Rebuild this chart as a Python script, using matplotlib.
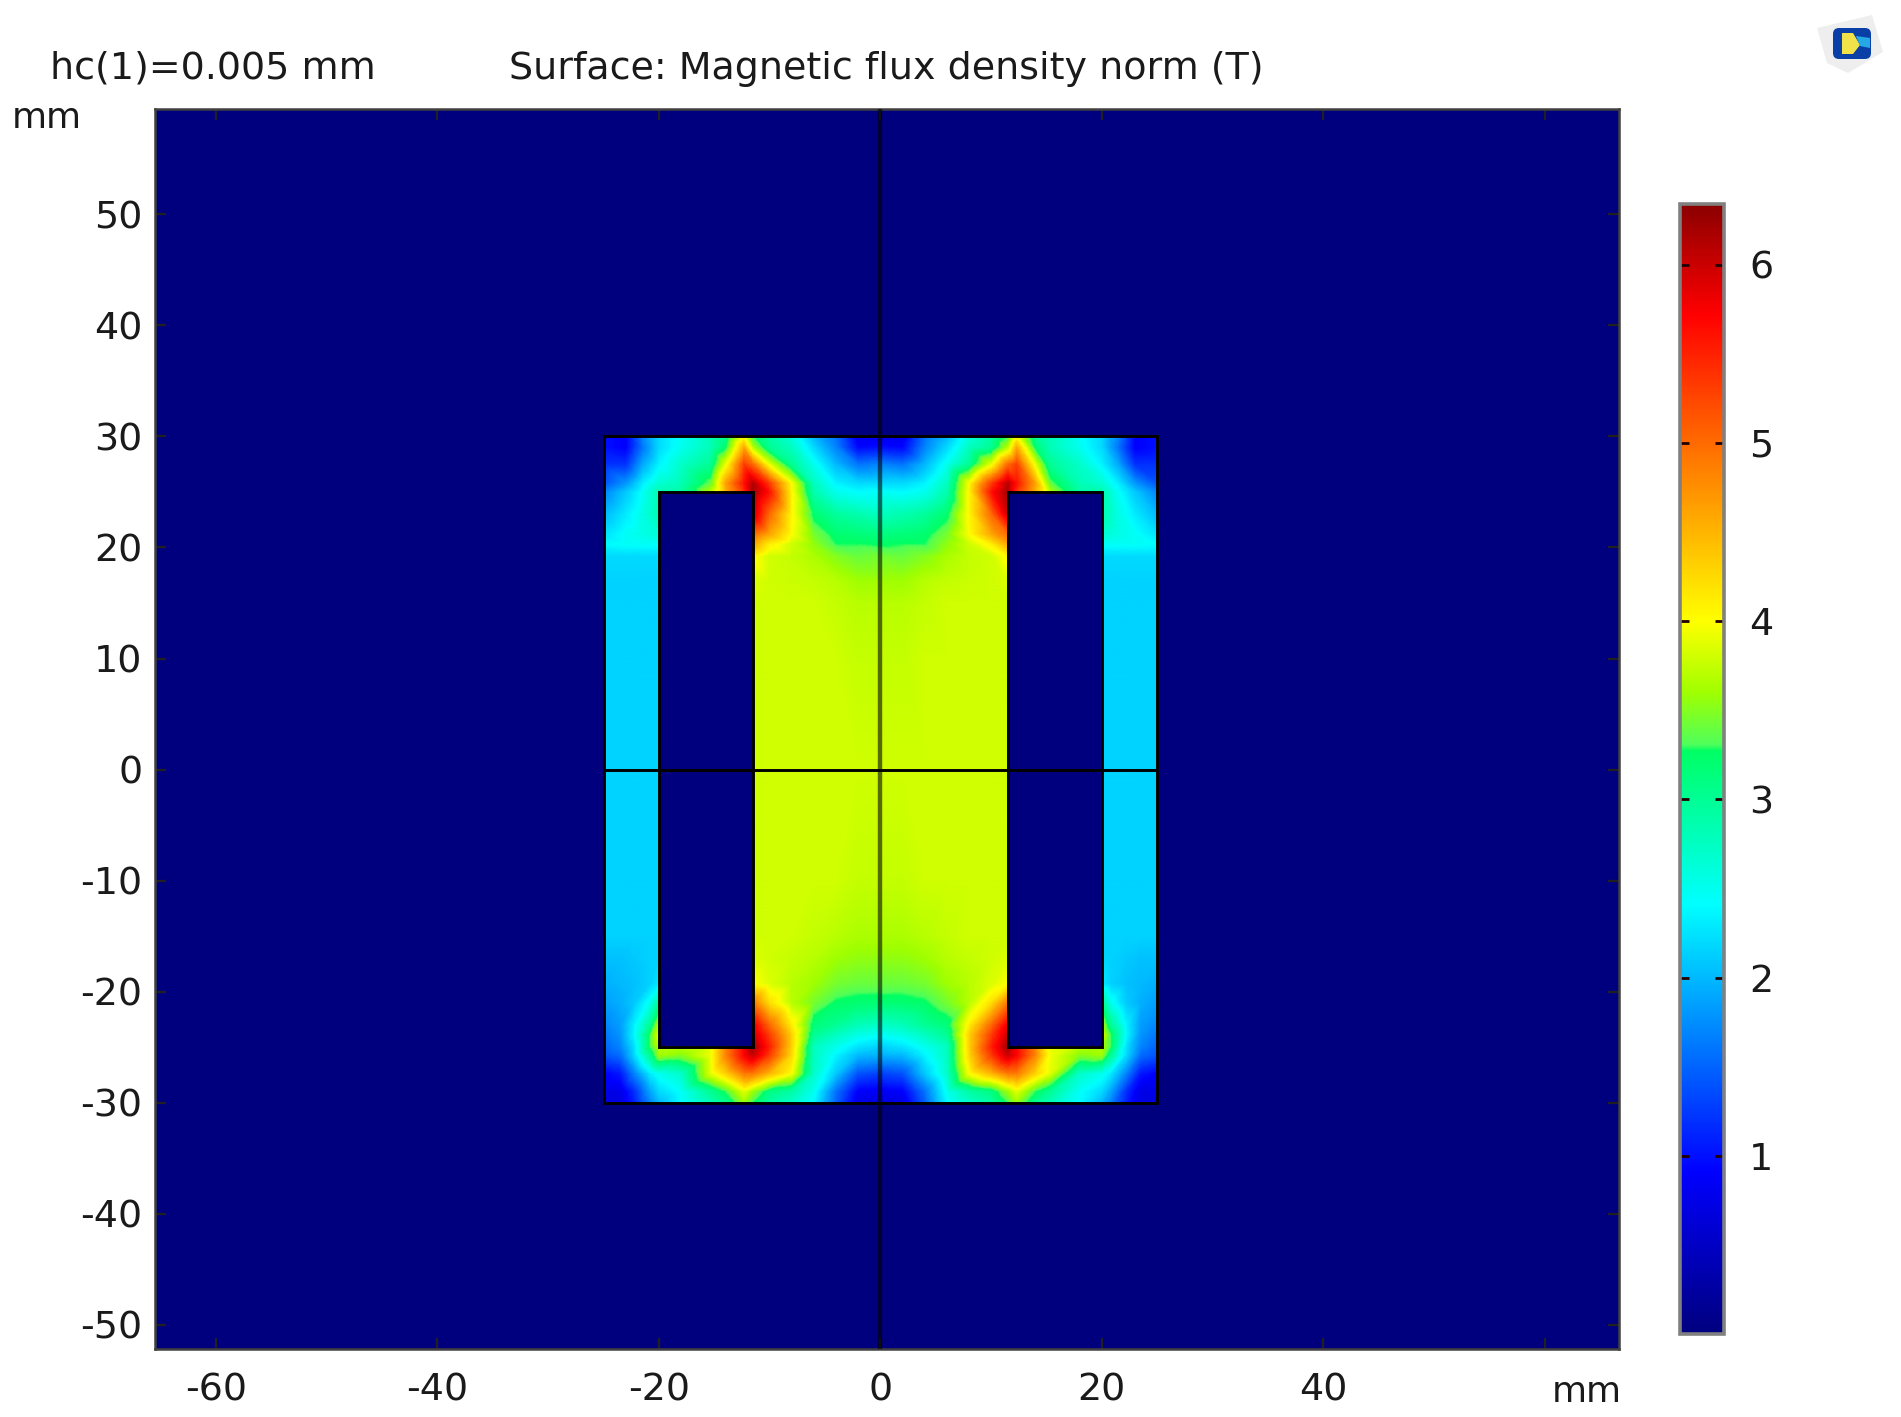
import numpy as np
import matplotlib
matplotlib.use("Agg")
import matplotlib.pyplot as plt
import matplotlib.tri as mtri
from matplotlib.colors import LinearSegmentedColormap, to_rgb
from matplotlib.patches import Polygon, FancyBboxPatch, Rectangle

W, H = 1901, 1417
plt.rcParams['font.family'] = 'DejaVu Sans'
TXT = '#1a1a1a'
FS = 27.4
FS_UNIT = 25.8

# Field (tesla), left half of the core; window cells are 0
X_TOP = [-25, -23, -21.5, -20, -18, -15.3, -14, -12.3, -11.5, -10, -8, -6, -4, -2, 0]
Y_TOP = [30, 29, 27.5, 25.8, 25, 23, 21.2, 20.3, 19.2, 17, 15, 10, 0]
B_TOP = [
    [1.0, 0.9, 1.7, 2.2, 2.45, 2.8, 3.0, 4.0, 3.3, 2.9, 2.6, 2.0, 1.6, 0.8, 0.8],
    [1.0, 0.9, 1.6, 2.2, 2.5, 2.8, 3.2, 4.6, 3.7, 3.0, 2.75, 2.2, 1.7, 0.95, 1.0],
    [1.2, 1.2, 1.9, 2.35, 2.7, 3.0, 3.9, 5.3, 5.0, 3.9, 3.0, 2.5, 2.0, 1.6, 1.7],
    [1.4, 1.8, 2.3, 2.65, 2.8, 3.4, 4.6, 5.6, 6.1, 5.3, 4.0, 2.75, 2.35, 2.2, 2.2],
    [1.7, 2.1, 2.45, 2.85, 2.9, 3.7, 4.5, 5.4, 6.2, 5.6, 4.05, 2.85, 2.5, 2.4, 2.45],
    [2.0, 2.3, 2.55, 2.85, 0, 0, 0, 0, 6.0, 5.0, 4.05, 3.2, 2.95, 2.85, 2.75],
    [2.25, 2.45, 2.55, 2.65, 0, 0, 0, 0, 5.0, 4.6, 4.0, 3.45, 3.2, 3.15, 3.1],
    [2.4, 2.45, 2.45, 2.45, 0, 0, 0, 0, 4.6, 4.1, 3.8, 3.55, 3.28, 3.28, 3.25],
    [2.2, 2.2, 2.2, 2.2, 0, 0, 0, 0, 4.05, 3.8, 3.75, 3.65, 3.5, 3.4, 3.45],
    [2.15, 2.15, 2.15, 2.15, 0, 0, 0, 0, 3.85, 3.8, 3.78, 3.75, 3.7, 3.6, 3.6],
    [2.15, 2.15, 2.15, 2.15, 0, 0, 0, 0, 3.8, 3.8, 3.8, 3.8, 3.75, 3.7, 3.7],
    [2.15, 2.15, 2.15, 2.15, 0, 0, 0, 0, 3.8, 3.8, 3.8, 3.8, 3.8, 3.75, 3.75],
    [2.15, 2.15, 2.15, 2.15, 0, 0, 0, 0, 3.8, 3.8, 3.8, 3.8, 3.8, 3.8, 3.8],
]
X_BOT = [-25, -23.5, -22.2, -20.8, -20, -18, -15.3, -14, -12.3, -11.5, -10, -8, -6, -4, -2, 0]
Y_BOT = [0, -10, -15, -17, -19.3, -21, -23, -23.9, -25, -25.8, -27.4, -29, -30]
B_BOT = [
    [2.15, 2.15, 2.15, 2.15, 2.15, 0, 0, 0, 0, 3.8, 3.8, 3.8, 3.8, 3.8, 3.8, 3.8],
    [2.15, 2.15, 2.15, 2.15, 2.15, 0, 0, 0, 0, 3.8, 3.8, 3.8, 3.8, 3.8, 3.75, 3.75],
    [2.15, 2.15, 2.15, 2.15, 2.15, 0, 0, 0, 0, 3.8, 3.8, 3.8, 3.75, 3.7, 3.65, 3.65],
    [2.05, 2.05, 2.1, 2.15, 2.15, 0, 0, 0, 0, 3.85, 3.8, 3.75, 3.7, 3.6, 3.55, 3.55],
    [1.95, 2.0, 2.05, 2.15, 2.3, 0, 0, 0, 0, 4.0, 3.85, 3.7, 3.6, 3.45, 3.4, 3.4],
    [1.85, 1.95, 2.1, 2.5, 3.0, 0, 0, 0, 0, 4.9, 4.2, 3.7, 3.45, 3.25, 3.2, 3.2],
    [1.7, 1.85, 2.35, 3.0, 3.7, 0, 0, 0, 0, 5.8, 5.0, 4.1, 3.15, 3.0, 2.8, 2.7],
    [1.6, 1.8, 2.4, 3.3, 3.9, 0, 0, 0, 0, 6.0, 5.3, 4.3, 3.0, 2.75, 2.55, 2.45],
    [1.5, 1.7, 2.25, 3.3, 3.7, 3.7, 3.9, 4.8, 5.7, 6.2, 5.5, 4.3, 2.75, 2.5, 2.25, 2.15],
    [1.4, 1.55, 2.2, 3.0, 3.6, 3.5, 3.95, 4.8, 5.7, 6.0, 5.3, 4.25, 2.75, 2.35, 2.0, 1.95],
    [0.9, 1.05, 1.7, 2.3, 2.5, 2.7, 3.9, 4.3, 4.9, 4.9, 4.5, 4.0, 2.7, 2.1, 1.4, 1.3],
    [0.75, 0.75, 1.2, 1.9, 2.2, 2.45, 3.0, 3.3, 3.9, 3.6, 3.1, 2.9, 2.5, 1.6, 0.9, 0.85],
    [0.7, 0.7, 1.1, 1.7, 2.0, 2.4, 2.8, 3.0, 3.6, 3.3, 2.9, 2.7, 2.4, 1.5, 0.75, 0.7],
]
AIR_B = [[0.0]]
B_MAX = 6.34
CMAP_AT = [0, 0.91, 2.41, 3.27, 3.31, 3.6, 4.0, 5.72, 6.34]
CMAP_COL = ['#00007f', '#0000ff', '#00ffff', '#00ff64', '#50ff5a', '#a0ff00', '#ffff00',
            '#ff0000', '#8b0000']
CORE_X, CORE_Y = 25, 30
WIN_OUT, WIN_IN, WIN_Y = 20, 11.5, 25
X_TICKS = [-60, -40, -20, 0, 20, 40, 60]
X_LABELS = ['-60', '-40', '-20', '0', '20', '40', '']
Y_TICKS = [-50, -40, -30, -20, -10, 0, 10, 20, 30, 40, 50]
Y_LABELS = ['-50', '-40', '-30', '-20', '-10', '0', '10', '20', '30', '40', '50']
C_TICKS = [1, 2, 3, 4, 5, 6]

cmap = LinearSegmentedColormap.from_list(
    'rainbow_b', [(a / B_MAX, to_rgb(c)) for a, c in zip(CMAP_AT, CMAP_COL)], N=1024)

fig = plt.figure(figsize=(W / 100, H / 100), dpi=100, facecolor='white')
ax = fig.add_axes([155 / W, 1 - 1349 / H, (1619 - 155) / W, (1349 - 109) / H])
ax.set_xlim(-65.5, 66.7)
ax.set_ylim(-52.2, 59.5)
ax.pcolormesh(ax.get_xlim(), ax.get_ylim(), AIR_B, cmap=cmap, vmin=0, vmax=B_MAX)


def quadrant(xs, ys, vals, sign):
    xs = np.asarray(xs, float) * sign
    ys = np.asarray(ys, float)
    vals = np.asarray(vals, float)
    gx, gy = np.meshgrid(xs, ys)
    nc, nr = len(xs), len(ys)
    tris = []
    for r in range(nr - 1):
        for c in range(nc - 1):
            a, b, d, e = r * nc + c, r * nc + c + 1, (r + 1) * nc + c, (r + 1) * nc + c + 1
            tris += [[a, b, e], [a, e, d]] if sign * ys[r] > 0 else [[a, b, d], [b, e, d]]
    tri = mtri.Triangulation(gx.ravel(), gy.ravel(), tris)
    z = vals.ravel()
    ref = mtri.UniformTriRefiner(tri)
    rt, rz = ref.refine_field(z, triinterpolator=mtri.LinearTriInterpolator(tri, z), subdiv=4)
    cx = rt.x[rt.triangles].mean(axis=1)
    cy = rt.y[rt.triangles].mean(axis=1)
    rt.set_mask((np.abs(cx) > WIN_IN) & (np.abs(cx) < WIN_OUT) & (np.abs(cy) < WIN_Y))
    return ax.tripcolor(rt, np.nan_to_num(rz), shading='gouraud', cmap=cmap, vmin=0, vmax=B_MAX)


for s in (1, -1):
    mesh = quadrant(X_TOP, Y_TOP, B_TOP, s)
    mesh = quadrant(X_BOT, Y_BOT, B_BOT, s)

edge = dict(fill=False, ec='black', lw=2.1, zorder=5)
ax.add_patch(Rectangle((-CORE_X, -CORE_Y), 2 * CORE_X, 2 * CORE_Y, **edge))
ax.add_patch(Rectangle((-WIN_OUT, -WIN_Y), WIN_OUT - WIN_IN, 2 * WIN_Y, **edge))
ax.add_patch(Rectangle((WIN_IN, -WIN_Y), WIN_OUT - WIN_IN, 2 * WIN_Y, **edge))
ax.plot([-CORE_X, CORE_X], [0, 0], color='black', lw=2.1, zorder=5)
ax.axvline(0, color='black', lw=3.2, alpha=0.58, zorder=5)

ax.set_xticks(X_TICKS, X_LABELS)
ax.set_yticks(Y_TICKS, Y_LABELS)
ax.tick_params(direction='in', length=8, width=1.6, color='#202020', top=True, right=True,
               labelsize=FS, labelcolor=TXT)
ax.tick_params(axis='x', pad=17)
ax.tick_params(axis='y', pad=9)
for sp in ax.spines.values():
    sp.set_color('#404040')
    sp.set_linewidth(1.8)

cax = fig.add_axes([1680 / W, 1 - 1334 / H, 44 / W, (1334 - 204) / H])
cb = fig.colorbar(mesh, cax=cax)
cb.set_ticks(C_TICKS)
cb.ax.tick_params(direction='in', length=6.5, width=2, color='#200000', left=True, right=True,
                  labelsize=FS, labelcolor=TXT, pad=18)
cb.outline.set_edgecolor('#808080')
cb.outline.set_linewidth(2.6)

fig.text(50 / W, 1 - 69 / H, 'hc(1)=0.005 mm', fontsize=FS, color=TXT, va='center', ha='left')
fig.text(509 / W, 1 - 69 / H, 'Surface: Magnetic flux density norm (T)', fontsize=FS,
         color=TXT, va='center', ha='left')
fig.text(12 / W, 1 - 118 / H, 'mm', fontsize=FS_UNIT, color=TXT, va='center', ha='left')
fig.text(1622 / W, 1 - 1392 / H, 'mm', fontsize=FS_UNIT, color=TXT, va='center', ha='right')

# Window badge in the top right corner
ov = fig.add_axes([0, 0, 1, 1], facecolor='none')
ov.set_xlim(0, W)
ov.set_ylim(H, 0)
ov.axis('off')
ov.add_patch(Polygon([(1817, 28), (1872, 15), (1883, 52), (1848, 73), (1827, 63)],
                     fc='#eeeeee', ec='none'))
ov.add_patch(FancyBboxPatch((1836, 31), 32, 25, boxstyle='round,pad=3,rounding_size=6',
                            fc='#0a3fa8', ec='none'))
ov.add_patch(Polygon([(1842, 33), (1853, 33), (1860, 45), (1853, 54), (1842, 54)],
                     fc='#f2e24a', ec='none'))
ov.add_patch(Polygon([(1856, 36), (1870, 38), (1870, 48), (1860, 46)], fc='#25a9e6', ec='none'))

fig.savefig('out.png', dpi=100)
